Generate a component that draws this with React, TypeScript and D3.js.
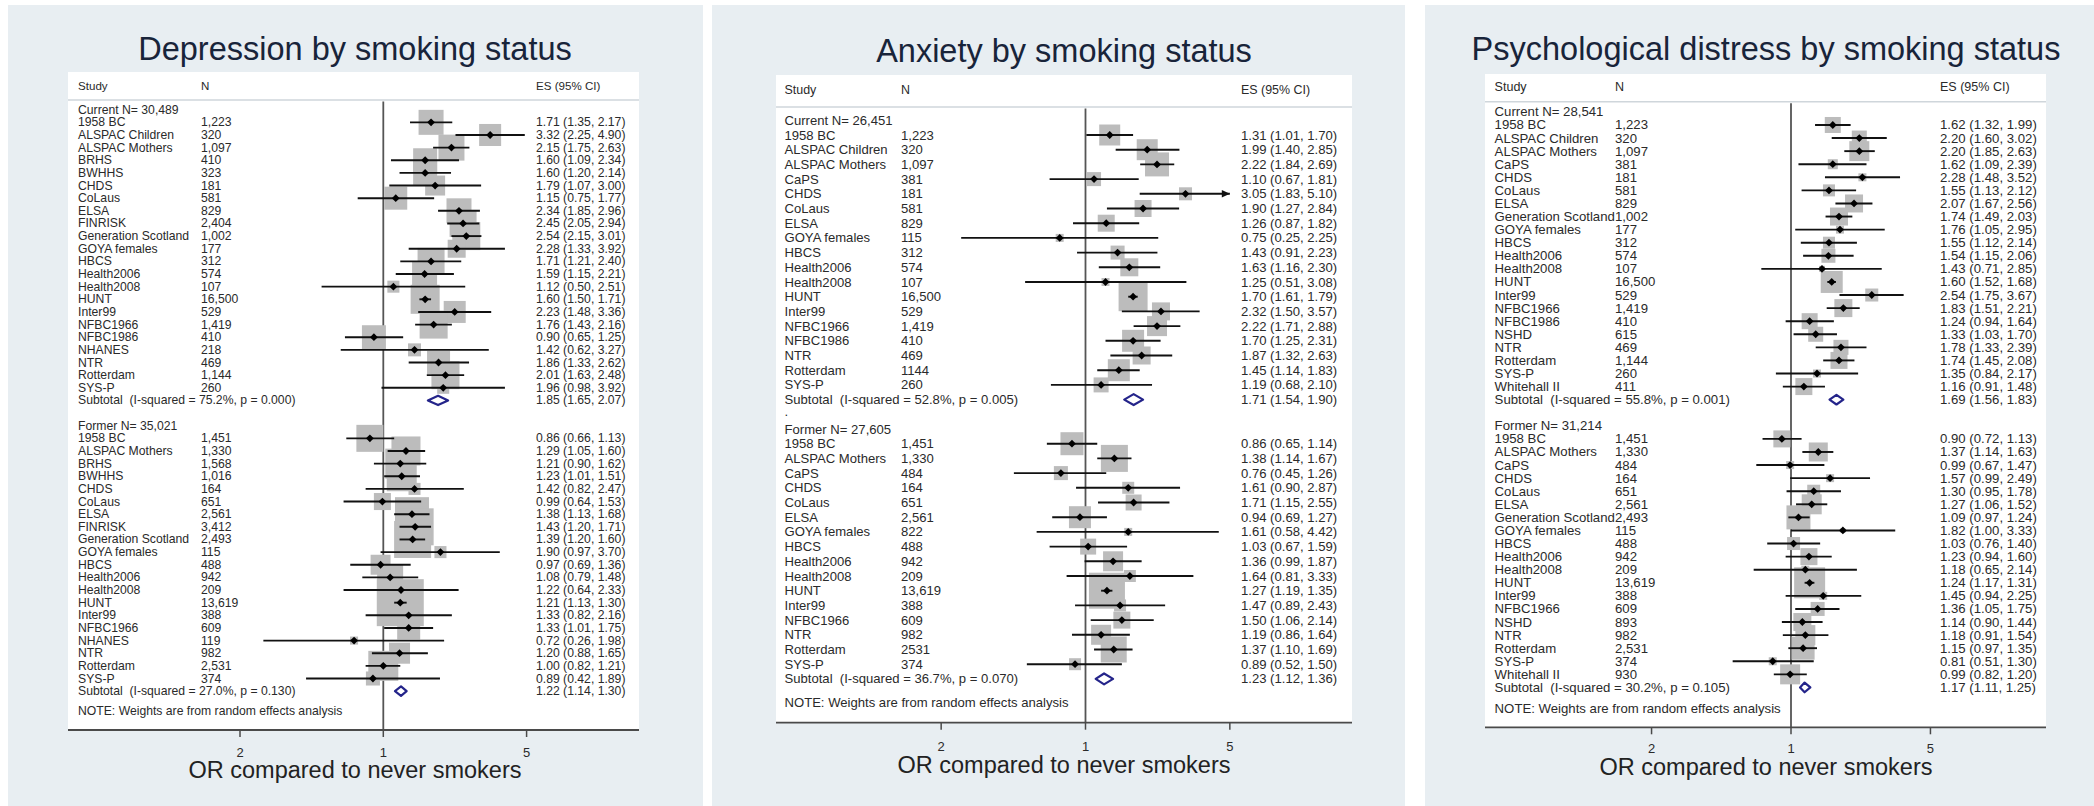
import React from 'react';
import * as d3 from 'd3';

// ---------------- DATA ----------------
// Depression – current smokers
const depCurStudy = ['1958 BC','ALSPAC Children','ALSPAC Mothers','BRHS','BWHHS','CHDS','CoLaus','ELSA','FINRISK','Generation Scotland','GOYA females','HBCS','Health2006','Health2008','HUNT','Inter99','NFBC1966','NFBC1986','NHANES','NTR','Rotterdam','SYS-P'];
const depCurN = ['1,223','320','1,097','410','323','181','581','829','2,404','1,002','177','312','574','107','16,500','529','1,419','410','218','469','1,144','260'];
const depCurEs = [1.71,3.32,2.15,1.60,1.60,1.79,1.15,2.34,2.45,2.54,2.28,1.71,1.59,1.12,1.60,2.23,1.76,0.90,1.42,1.86,2.01,1.96];
const depCurLo = [1.35,2.25,1.75,1.09,1.20,1.07,0.75,1.85,2.05,2.15,1.33,1.21,1.15,0.50,1.50,1.48,1.43,0.65,0.62,1.33,1.63,0.98];
const depCurHi = [2.17,4.90,2.63,2.34,2.14,3.00,1.77,2.96,2.94,3.01,3.92,2.40,2.21,2.51,1.71,3.36,2.16,1.25,3.27,2.62,2.48,3.92];
const depCurW = [2.41,1.87,2.61,2.22,2.22,1.54,2.04,2.41,2.81,3.03,1.25,2.81,2.41,0.56,3.25,1.87,3.03,2.22,0.65,2.04,3.03,0.56];
// Depression – former smokers
const depFmrStudy = ['1958 BC','ALSPAC Mothers','BRHS','BWHHS','CHDS','CoLaus','ELSA','FINRISK','Generation Scotland','GOYA females','HBCS','Health2006','Health2008','HUNT','Inter99','NFBC1966','NHANES','NTR','Rotterdam','SYS-P'];
const depFmrN = ['1,451','1,330','1,568','1,016','164','651','2,561','3,412','2,493','115','488','942','209','13,619','388','609','119','982','2,531','374'];
const depFmrEs = [0.86,1.29,1.21,1.23,1.42,0.99,1.38,1.43,1.39,1.90,0.97,1.08,1.22,1.21,1.33,1.33,0.72,1.20,1.00,0.89];
const depFmrLo = [0.66,1.05,0.90,1.01,0.82,0.64,1.13,1.20,1.20,0.97,0.69,0.79,0.64,1.13,0.82,1.01,0.26,0.88,0.82,0.42];
const depFmrHi = [1.13,1.60,1.62,1.51,2.47,1.53,1.68,1.71,1.60,3.70,1.36,1.48,2.33,1.30,2.16,1.75,1.98,1.65,1.21,1.89];
const depFmrW = [2.81,3.25,3.47,3.47,0.56,1.12,4.46,5.28,5.28,0.56,1.54,2.61,0.76,8.52,1.25,2.04,0.25,1.70,3.47,0.76];
const depGroupN = ['30,489','35,021'];
const depSubEs = [1.85,1.22];
const depSubLo = [1.65,1.14];
const depSubHi = [2.07,1.30];
const depI2 = ['75.2','27.0'];
const depP = ['0.000','0.130'];

// Anxiety – current smokers
const anxCurStudy = ['1958 BC','ALSPAC Children','ALSPAC Mothers','CaPS','CHDS','CoLaus','ELSA','GOYA females','HBCS','Health2006','Health2008','HUNT','Inter99','NFBC1966','NFBC1986','NTR','Rotterdam','SYS-P'];
const anxCurN = ['1,223','320','1,097','381','181','581','829','115','312','574','107','16,500','529','1,419','410','469','1144','260'];
const anxCurEs = [1.31,1.99,2.22,1.10,3.05,1.90,1.26,0.75,1.43,1.63,1.25,1.70,2.32,2.22,1.70,1.87,1.45,1.19];
const anxCurLo = [1.01,1.40,1.84,0.67,1.83,1.27,0.87,0.25,0.91,1.16,0.51,1.61,1.50,1.71,1.25,1.32,1.14,0.68];
const anxCurHi = [1.70,2.85,2.69,1.81,5.10,2.84,1.82,2.25,2.23,2.30,3.08,1.79,3.57,2.88,2.31,2.63,1.83,2.10];
const anxCurW = [3.59,3.59,4.69,1.60,1.38,2.35,2.35,0.52,1.60,2.64,0.52,6.85,2.64,3.26,3.94,2.64,3.94,1.83];
// Anxiety – former smokers
const anxFmrStudy = ['1958 BC','ALSPAC Mothers','CaPS','CHDS','CoLaus','ELSA','GOYA females','HBCS','Health2006','Health2008','HUNT','Inter99','NFBC1966','NTR','Rotterdam','SYS-P'];
const anxFmrN = ['1,451','1,330','484','164','651','2,561','822','488','942','209','13,619','388','609','982','2531','374'];
const anxFmrEs = [0.86,1.38,0.76,1.61,1.71,0.94,1.61,1.03,1.36,1.64,1.27,1.47,1.50,1.19,1.37,0.89];
const anxFmrLo = [0.65,1.14,0.45,0.90,1.15,0.69,0.58,0.67,0.99,0.81,1.19,0.89,1.06,0.86,1.10,0.52];
const anxFmrHi = [1.14,1.67,1.26,2.87,2.55,1.27,4.42,1.59,1.87,3.33,1.35,2.43,2.14,1.64,1.69,1.50];
const anxFmrW = [4.31,5.94,1.60,1.17,2.08,3.94,0.52,2.08,3.26,1.17,10.55,1.17,2.35,3.26,5.50,1.17];
const anxGroupN = ['26,451','27,605'];
const anxSubEs = [1.71,1.23];
const anxSubLo = [1.54,1.12];
const anxSubHi = [1.90,1.36];
const anxI2 = ['52.8','36.7'];
const anxP = ['0.005','0.070'];

// Psychological distress – current smokers
const psyCurStudy = ['1958 BC','ALSPAC Children','ALSPAC Mothers','CaPS','CHDS','CoLaus','ELSA','Generation Scotland','GOYA females','HBCS','Health2006','Health2008','HUNT','Inter99','NFBC1966','NFBC1986','NSHD','NTR','Rotterdam','SYS-P','Whitehall II'];
const psyCurN = ['1,223','320','1,097','381','181','581','829','1,002','177','312','574','107','16,500','529','1,419','410','615','469','1,144','260','411'];
const psyCurEs = [1.62,2.20,2.20,1.62,2.28,1.55,2.07,1.74,1.76,1.55,1.54,1.43,1.60,2.54,1.83,1.24,1.33,1.78,1.74,1.35,1.16];
const psyCurLo = [1.32,1.60,1.85,1.09,1.48,1.13,1.67,1.49,1.05,1.12,1.15,0.71,1.52,1.75,1.51,0.94,1.03,1.33,1.45,0.84,0.91];
const psyCurHi = [1.99,3.02,2.63,2.39,3.52,2.12,2.56,2.03,2.95,2.14,2.06,2.85,1.68,3.67,2.21,1.64,1.70,2.39,2.08,2.17,1.48];
const psyCurW = [2.56,2.25,4.00,1.00,0.64,1.44,3.24,3.24,0.64,1.44,1.96,0.36,4.84,1.69,3.24,2.56,2.25,2.25,2.89,0.64,2.89];
// Psychological distress – former smokers
const psyFmrStudy = ['1958 BC','ALSPAC Mothers','CaPS','CHDS','CoLaus','ELSA','Generation Scotland','GOYA females','HBCS','Health2006','Health2008','HUNT','Inter99','NFBC1966','NSHD','NTR','Rotterdam','SYS-P','Whitehall II'];
const psyFmrN = ['1,451','1,330','484','164','651','2,561','2,493','115','488','942','209','13,619','388','609','893','982','2,531','374','930'];
const psyFmrEs = [0.90,1.37,0.99,1.57,1.30,1.27,1.09,1.82,1.03,1.23,1.18,1.24,1.45,1.36,1.14,1.18,1.15,0.81,0.99];
const psyFmrLo = [0.72,1.14,0.67,0.99,0.95,1.06,0.97,1.00,0.76,0.94,0.65,1.17,0.94,1.05,0.90,0.91,0.97,0.51,0.82];
const psyFmrHi = [1.13,1.63,1.47,2.49,1.78,1.52,1.24,3.33,1.40,1.60,2.14,1.31,2.25,1.75,1.44,1.54,1.35,1.30,1.20];
const psyFmrW = [2.89,3.61,0.64,0.64,1.69,4.00,5.76,0.25,1.69,2.89,0.64,9.61,0.64,1.96,3.24,4.00,5.29,0.64,4.00];
const psyGroupN = ['28,541','31,214'];
const psySubEs = [1.69,1.17];
const psySubLo = [1.56,1.11];
const psySubHi = [1.83,1.25];
const psyI2 = ['55.8','30.2'];
const psyP = ['0.001','0.105'];

const titles = ['Depression by smoking status', 'Anxiety by smoking status', 'Psychological distress by smoking status'];
const groupLabels = ['Current', 'Former'];
const tickValues = [0.2, 1, 5];
const tickLabels = ['2', '1', '5'];
const headers = ['Study', 'N', 'ES (95% CI)'];
const xTitle = 'OR compared to never smokers';
const noteText = 'NOTE: Weights are from random effects analysis';

// ---------------- LAYOUT ----------------
const FONT = "'Liberation Sans', Arial, Helvetica, sans-serif";
const layouts = [
  { bgX0: 8, bgX1: 703, plotX0: 68, plotX1: 639, headTop: 72, sepY: 100, headY: 85.5, axisY: 730, nullX: 383.3, k: 205, studyX: 78, nX: 201, esX: 536, y0: 109.7, h: 12.64, fs: 12.2, titleX: 355, titleY: 60, tickY: 752, axTitleY: 770, boxC: 16.1, dot: false },
  { bgX0: 712, bgX1: 1405, plotX0: 776, plotX1: 1352, headTop: 75, sepY: 107, headY: 89.5, axisY: 722.7, nullX: 1085.5, k: 206.5, studyX: 784.5, nX: 901, esX: 1241, y0: 120.3, h: 14.7, fs: 13.1, titleX: 1064, titleY: 62, tickY: 746.7, axTitleY: 765, boxC: 11.08, dot: true },
  { bgX0: 1425, bgX1: 2094, plotX0: 1485, plotX1: 2046, headTop: 74, sepY: 101.7, headY: 87, axisY: 727.3, nullX: 1791, k: 199.5, studyX: 1494.6, nX: 1615, esX: 1940, y0: 111.9, h: 13.08, fs: 13.2, titleX: 1766, titleY: 60, tickY: 748, axTitleY: 766.7, boxC: 10.0, dot: false },
];

type Sec = { study: string[]; n: string[]; es: number[]; lo: number[]; hi: number[]; w: number[] };
type Grp = { groupN: string[]; subEs: number[]; subLo: number[]; subHi: number[]; i2: string[]; p: string[] };

const panelsData: { cur: Sec; fmr: Sec; grp: Grp }[] = [
  { cur: { study: depCurStudy, n: depCurN, es: depCurEs, lo: depCurLo, hi: depCurHi, w: depCurW },
    fmr: { study: depFmrStudy, n: depFmrN, es: depFmrEs, lo: depFmrLo, hi: depFmrHi, w: depFmrW },
    grp: { groupN: depGroupN, subEs: depSubEs, subLo: depSubLo, subHi: depSubHi, i2: depI2, p: depP } },
  { cur: { study: anxCurStudy, n: anxCurN, es: anxCurEs, lo: anxCurLo, hi: anxCurHi, w: anxCurW },
    fmr: { study: anxFmrStudy, n: anxFmrN, es: anxFmrEs, lo: anxFmrLo, hi: anxFmrHi, w: anxFmrW },
    grp: { groupN: anxGroupN, subEs: anxSubEs, subLo: anxSubLo, subHi: anxSubHi, i2: anxI2, p: anxP } },
  { cur: { study: psyCurStudy, n: psyCurN, es: psyCurEs, lo: psyCurLo, hi: psyCurHi, w: psyCurW },
    fmr: { study: psyFmrStudy, n: psyFmrN, es: psyFmrEs, lo: psyFmrLo, hi: psyFmrHi, w: psyFmrW },
    grp: { groupN: psyGroupN, subEs: psySubEs, subLo: psySubLo, subHi: psySubHi, i2: psyI2, p: psyP } },
];

const fmt = (v: number) => v.toFixed(2);
const TXT = '#2a2a2a';

function Panel({ idx }: { idx: number }) {
  const L = layouts[idx];
  const D = panelsData[idx];
  const half = L.k * Math.log10(5);
  const x = d3.scaleLog().domain([0.2, 5]).range([L.nullX - half, L.nullX + half]);
  const y = d3.scaleLinear().domain([0, 1]).range([L.y0, L.y0 + L.h]);
  const box = d3.scaleSqrt().domain([0, 1]).range([0, L.boxC]);
  const [xmin, xmax] = x.domain();

  const secs = [D.cur, D.fmr];
  const nC = D.cur.study.length;
  const nF = D.fmr.study.length;
  const labelIdx = [0, nC + 3];
  const subIdx = [nC + 1, nC + nF + 4];
  const noteIdx = nC + nF + 4 + 1.6;
  const dh = L.h * 0.37;

  const rows: { yy: number; s: Sec; i: number }[] = [];
  secs.forEach((s, g) => s.study.forEach((_, i) => rows.push({ yy: y(labelIdx[g] + 1 + i), s, i })));

  const textProps = { fontFamily: FONT, fontSize: L.fs, fill: TXT, dominantBaseline: 'central' as const };

  return (
    <g>
      <rect x={L.bgX0} y={5} width={L.bgX1 - L.bgX0} height={801} fill="#e8eef2" />
      <text x={L.titleX} y={L.titleY} textAnchor="middle" fontFamily={FONT} fontSize={32.5} fill="#18243a">{titles[idx]}</text>
      <rect x={L.plotX0} y={L.headTop} width={L.plotX1 - L.plotX0} height={L.axisY - L.headTop} fill="#ffffff" />
      <line x1={L.plotX0} x2={L.plotX1} y1={L.sepY} y2={L.sepY} stroke="#cfd6db" strokeWidth={1.6} />
      <text x={L.studyX} y={L.headY} {...textProps} fontSize={L.fs * 0.95}>{headers[0]}</text>
      <text x={L.nX} y={L.headY} {...textProps} fontSize={L.fs * 0.95}>{headers[1]}</text>
      <text x={L.esX} y={L.headY} {...textProps} fontSize={L.fs * 0.95}>{headers[2]}</text>

      {/* null line */}
      <line x1={x(1)} x2={x(1)} y1={L.sepY + 1.5} y2={L.axisY} stroke="#555" strokeWidth={1.8} />

      {/* weight boxes */}
      {rows.map((r, j) => {
        const side = box(r.s.w[r.i]);
        return <rect key={'b' + j} x={x(r.s.es[r.i]) - side / 2} y={r.yy - side / 2} width={side} height={side} fill="#bcbcbc" />;
      })}

      {/* CIs and point estimates */}
      {rows.map((r, j) => {
        const lo = Math.max(r.s.lo[r.i], xmin);
        const hi = Math.min(r.s.hi[r.i], xmax);
        const cx = x(r.s.es[r.i]);
        const m = 3.9;
        return (
          <g key={'c' + j}>
            <line x1={x(lo)} x2={x(hi)} y1={r.yy} y2={r.yy} stroke="#111" strokeWidth={1.9} />
            {r.s.hi[r.i] > xmax && (
              <path d={`M${x(xmax)},${r.yy} l-8,-3.8 l0,7.6 Z`} fill="#111" />
            )}
            {r.s.lo[r.i] < xmin && (
              <path d={`M${x(xmin)},${r.yy} l8,-3.8 l0,7.6 Z`} fill="#111" />
            )}
            <path d={`M${cx - m},${r.yy} L${cx},${r.yy - m} L${cx + m},${r.yy} L${cx},${r.yy + m} Z`} fill="#000" />
          </g>
        );
      })}

      {/* subtotal diamonds */}
      {[0, 1].map(g => {
        const yy = y(subIdx[g]);
        const e = x(D.grp.subEs[g]);
        const l = x(D.grp.subLo[g]);
        const hh = x(D.grp.subHi[g]);
        return <path key={'d' + g} d={`M${l},${yy} L${e},${yy - dh} L${hh},${yy} L${e},${yy + dh} Z`} fill="none" stroke="#24248a" strokeWidth={2.2} strokeLinejoin="round" />;
      })}

      {/* table text */}
      {[0, 1].map(g => (
        <text key={'gl' + g} x={L.studyX} y={y(labelIdx[g])} {...textProps}>{`${groupLabels[g]} N= ${D.grp.groupN[g]}`}</text>
      ))}
      {rows.map((r, j) => (
        <g key={'t' + j}>
          <text x={L.studyX} y={r.yy} {...textProps}>{r.s.study[r.i]}</text>
          <text x={L.nX} y={r.yy} {...textProps}>{r.s.n[r.i]}</text>
          <text x={L.esX} y={r.yy} {...textProps}>{`${fmt(r.s.es[r.i])} (${fmt(r.s.lo[r.i])}, ${fmt(r.s.hi[r.i])})`}</text>
        </g>
      ))}
      {[0, 1].map(g => (
        <g key={'st' + g}>
          <text x={L.studyX} y={y(subIdx[g])} {...textProps} style={{ whiteSpace: 'pre' }}>{`Subtotal  (I-squared = ${D.grp.i2[g]}%, p = ${D.grp.p[g]})`}</text>
          <text x={L.esX} y={y(subIdx[g])} {...textProps}>{`${fmt(D.grp.subEs[g])} (${fmt(D.grp.subLo[g])}, ${fmt(D.grp.subHi[g])})`}</text>
        </g>
      ))}
      {L.dot && <text x={L.studyX} y={y(nC + 2) - 3} {...textProps}>.</text>}
      <text x={L.studyX} y={y(noteIdx)} {...textProps}>{noteText}</text>

      {/* x axis */}
      <line x1={L.plotX0} x2={L.plotX1} y1={L.axisY} y2={L.axisY} stroke="#4a4a4a" strokeWidth={1.8} />
      {tickValues.map((t, i) => (
        <g key={'tk' + i}>
          <line x1={x(t)} x2={x(t)} y1={L.axisY} y2={L.axisY + 7} stroke="#4a4a4a" strokeWidth={1.5} />
          <text x={x(t)} y={L.tickY} textAnchor="middle" dominantBaseline="central" fontFamily={FONT} fontSize={13} fill={TXT}>{tickLabels[i]}</text>
        </g>
      ))}
      <text x={L.titleX} y={L.axTitleY} textAnchor="middle" dominantBaseline="central" fontFamily={FONT} fontSize={23.5} fill="#222">{xTitle}</text>
    </g>
  );
}

export default function App() {
  return (
    <svg width={2094} height={806} viewBox="0 0 2094 806" style={{ position: 'absolute', left: 0, top: 0, background: '#ffffff' }}>
      <rect x={0} y={0} width={2094} height={806} fill="#ffffff" />
      {[0, 1, 2].map(i => <Panel key={i} idx={i} />)}
    </svg>
  );
}
